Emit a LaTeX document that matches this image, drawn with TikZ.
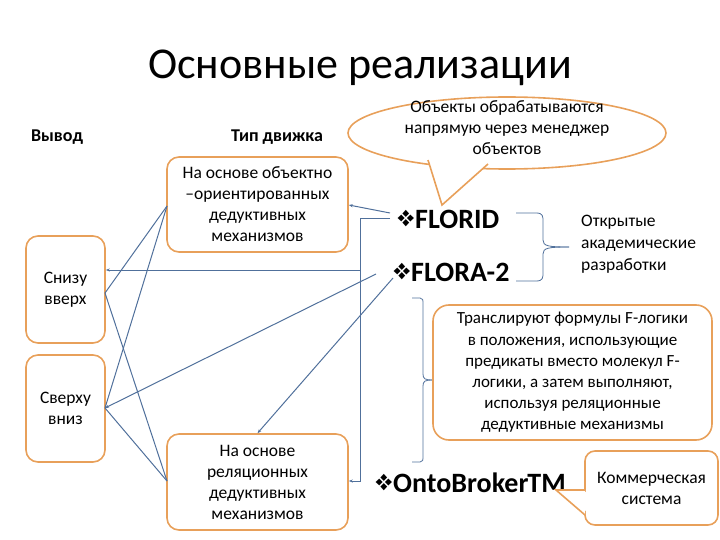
\documentclass[tikz,border=0pt]{standalone}
\usepackage{fontspec}
\setmainfont{Carlito}
\usepackage{pifont}
\usetikzlibrary{shapes.geometric,arrows.meta}
\definecolor{org}{RGB}{232,160,90}
\definecolor{lnk}{RGB}{80,112,155}
\begin{document}
\begin{tikzpicture}[x=1pt,y=-1pt,
  txt/.style={font=\fontsize{17.5}{21}\selectfont},
  box/.style={draw=org,line width=1.6pt,rounded corners=12pt,align=center,txt,inner sep=0pt},
  ob/.style={draw=org,line width=1.6pt},
  lk/.style={draw=lnk,line width=1pt},
  ar/.style={lk,-{Stealth[length=4pt,width=3pt]}},
  big/.style={font=\fontsize{28}{30}\selectfont\bfseries,anchor=west,inner sep=0pt},
  bul/.style={font=\fontsize{23}{24}\selectfont,anchor=east,inner sep=0pt}]
\useasboundingbox (0,0) rectangle (720,540);
\node (title) at (360,68) {\fontsize{44}{46}\selectfont Основные реализации};
\node (vyv) at (57,137) {\fontsize{18}{18}\selectfont\bfseries Вывод};
\node (tip) at (277,137) {\fontsize{18}{18}\selectfont\bfseries Тип движка};
\node[box,minimum width=181,minimum height=95] (A) at (257.5,204.5) {На основе объектно\\–ориентированных\\дедуктивных\\механизмов};
\node[box,minimum width=79,minimum height=107] (S1) at (65.5,289.5) {Снизу\\вверх};
\node[box,minimum width=79,minimum height=107] (S2) at (65.5,408.5) {Сверху\\вниз};
\node[box,minimum width=181,minimum height=96] (B) at (257.5,482) {На основе\\реляционных\\дедуктивных\\механизмов};
% ellipse callout
\node[ellipse,ob,minimum width=318,minimum height=72,inner sep=0pt] (ell) at (507,133) {};
\draw[ob,fill=white] (428,160) -- (442,205) -- (488,164);
\fill[white] (430,158) -- (442,200) -- (484,162) -- cycle;
\node[align=center,txt,inner sep=0pt] (elltxt) at (507,128) {Объекты обрабатываются\\напрямую через менеджер\\объектов};
\node[big] (fl) at (415,219) {FLORID};
\node[bul] at (fl.west) {\ding{118}};
\node[big] (f2) at (411,272) {FLORA-2};
\node[bul] at (f2.west) {\ding{118}};
\node[big] (obk) at (393,483) {OntoBroker\kern-1pt TM};
\node[bul] at (obk.west) {\ding{118}};
\draw[lk,line width=0.8pt] (516,213) -- (536,213) .. controls (543,213) and (543,216) .. (543,222) -- (543,240) .. controls (543,246) and (548,247) .. (569,247);
\draw[lk,line width=0.8pt] (516,281) -- (536,281) .. controls (543,281) and (543,278) .. (543,272) -- (543,254) .. controls (543,248) and (548,247) .. (569,247);
\node[align=left,anchor=west,font=\fontsize{17.5}{22}\selectfont,inner sep=0pt] (open) at (581,244) {Открытые\\академические\\разработки};
\draw[lk,line width=0.8pt] (412,298) -- (420,298) .. controls (423,298) and (423,300) .. (423,304) -- (423,374) .. controls (423,379) and (425,380) .. (433,380);
\draw[lk,line width=0.8pt] (412,462) -- (420,462) .. controls (423,462) and (423,460) .. (423,456) -- (423,386) .. controls (423,381) and (425,380) .. (433,380);
\node[box,rounded corners=16pt,minimum width=279,minimum height=135,font=\fontsize{17}{21.2}\selectfont] (tr) at (572.5,372.5) {Транслируют формулы F-логики\\в положения, использующие\\предикаты  вместо молекул F-\\логики, а затем выполняют,\\используя реляционные\\дедуктивные механизмы};
\node[box,rounded corners=10pt,minimum width=133,minimum height=74] (com) at (651.5,488) {Коммерческая\\система};
\draw[ob,fill=white] (585,490) -- (556,490) -- (585,515);
\fill[white] (587,492) -- (562,491) -- (587,512) -- cycle;
% connectors
\coordinate (Al) at (167,206); \coordinate (Bl) at (167,481);
\coordinate (S1r) at (105,293); \coordinate (S2r) at (105,408);
\draw[lk] (Al) -- (S1r); \draw[lk] (Al) -- (S2r);
\draw[lk] (Bl) -- (S1r); \draw[lk] (Bl) -- (S2r);
\coordinate (v1) at (360,219); \coordinate (v2) at (360,481);
\draw[ar] (390,219) -- (v1) -- (v2) -- (B.east |- v2);
\draw[ar] (360,270) -- (S1.east |- 0,270);
\draw[ar] (390,213) -- (A.east |- 0,205);
\draw[ar] (376,274) -- (S2r);
\draw[ar] (393,278) -- (B.north);
\end{tikzpicture}
\end{document}
